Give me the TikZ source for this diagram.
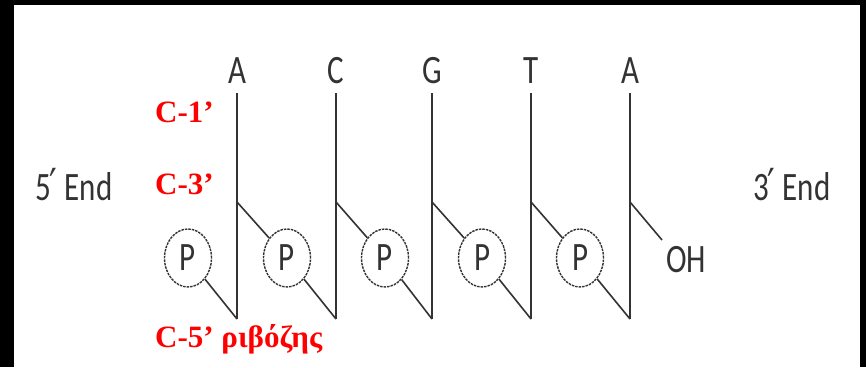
\documentclass[tikz,border=0pt]{standalone}
\usepackage{fontspec}
\usepackage{graphicx}
\usetikzlibrary{shapes.geometric}
\setmainfont{Carlito}
\newfontfamily\redfont{Liberation Serif}
\newfontfamily\primefont{DejaVu Sans}
\definecolor{strand}{HTML}{333333}
\definecolor{labelred}{HTML}{FF0000}
\newcommand\stretchtxt[1]{\scalebox{1}[1.3]{#1}}
\newcommand\primemark{{\primefont\fontsize{34}{34}\selectfont\kern-1pt ′}}

\begin{document}
\begin{tikzpicture}[x=1pt,y=-1pt,
  basetxt/.style={font=\fontsize{31}{31}\selectfont, text=strand, inner sep=0pt},
  carbon/.style={font=\redfont\bfseries\fontsize{31}{31}\selectfont, text=labelred, anchor=base west, inner sep=0pt},
  bond/.style={draw=strand, line width=1.6pt},
  phos/.style={ellipse, draw=strand, dash pattern=on 2.5pt off 1pt, line width=1.4pt,
    minimum width=47pt, minimum height=58pt, inner sep=0pt,
    font=\fontsize{31}{31}\selectfont, text=strand}
]
% frame
\useasboundingbox (0,0) rectangle (866,367);
\fill[black] (0,0) rectangle (866,367);
\fill[white] (14,5) rectangle (860,367);

% bases on top of the sugar lines
\foreach \n/\x/\b in {1/237/A, 2/336/C, 3/432/G, 4/531/T, 5/630/A} {
  \node[basetxt, anchor=base] (b\n) at (\x,83) {\stretchtxt{\b}};
  \coordinate (t\n) at (\x,93);
  \coordinate (m\n) at (\x,202);
  \coordinate (u\n) at (\x,319);
}

% phosphate groups
\foreach \n/\x in {1/188, 2/287, 3/385, 4/482, 5/580} {
  \node[phos] (p\n) at (\x,258) {\stretchtxt{P}};
}

% sugar backbones
\foreach \n in {1,...,5} {
  \draw[bond] (t\n) -- (u\n);
  \draw[bond] (p\n) -- (u\n);
}
\foreach \n/\m in {1/2, 2/3, 3/4, 4/5} {
  \draw[bond] (m\n) -- (p\m);
}
\coordinate (ohend) at (662,240);
\draw[bond] (m5) -- (ohend);
\node[basetxt, anchor=base west] (oh) at (666,272) {\stretchtxt{OH}};

% strand ends
\node[basetxt, anchor=base west] (end5) at (35,200) {\stretchtxt{5\primemark{} End}};
\node[basetxt, anchor=base west] (end3) at (753,200) {\stretchtxt{3\primemark{} End}};

% carbon labels
\node[carbon] (c1) at (155,122) {C-1’};
\node[carbon] (c3) at (155,194) {C-3’};
\node[carbon] (c5) at (155,347) {C-5’ ριβόζης};
\end{tikzpicture}
\end{document}
